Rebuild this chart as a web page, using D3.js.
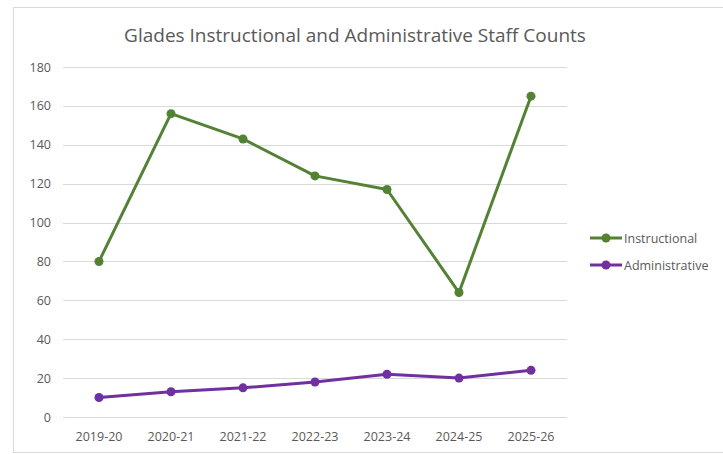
<!DOCTYPE html>
<html><head><meta charset="utf-8">
<script src="https://cdn.jsdelivr.net/npm/d3@7"></script>
<style>body{margin:0;background:#fff}svg{display:block}</style>
</head><body>
<script>
const categories = ["2019-20","2020-21","2021-22","2022-23","2023-24","2024-25","2025-26"];
const instructional = [80,156,143,124,117,64,165];
const administrative = [10,13,15,18,22,20,24];
const yTicks = [0,20,40,60,80,100,120,140,160,180];
const seriesNames = ["Instructional","Administrative"];
const colors = ["#548235","#7030A0"];

const W=723,H=454;
const svg=d3.select("body").append("svg").attr("width",W).attr("height",H);
svg.append("rect").attr("x",13.5).attr("y",7.5).attr("width",W).attr("height",445).attr("fill","#fff").attr("stroke","#d9d9d9");
const font="'Open Sans', 'Noto Sans', sans-serif";
const x=d3.scaleBand().domain(categories).range([63,567]);
const y=d3.scaleLinear().domain([0,180]).range([417,67]);

svg.append("text").attr("x",355).attr("y",42).attr("text-anchor","middle").attr("font-family",font).attr("font-size",19).attr("fill","#595959").text("Glades Instructional and Administrative Staff Counts");

const g=svg.append("g");
g.selectAll("line.grid").data(yTicks).join("line").attr("x1",63).attr("x2",567).attr("y1",d=>Math.round(y(d))+0.5).attr("y2",d=>Math.round(y(d))+0.5).attr("stroke","#d9d9d9").attr("stroke-width",1);
g.selectAll("text.yl").data(yTicks).join("text").attr("x",51).attr("y",d=>y(d)+4.5).attr("text-anchor","end").attr("font-family",font).attr("font-size",12.5).attr("fill","#595959").text(d=>d);
g.selectAll("text.xl").data(categories).join("text").attr("x",d=>x(d)+x.bandwidth()/2).attr("y",441).attr("text-anchor","middle").attr("font-family",font).attr("font-size",12.5).attr("fill","#595959").text(d=>d);

const line=d3.line().x((d,i)=>x(categories[i])+x.bandwidth()/2).y(d=>y(d));
[instructional,administrative].forEach((s,k)=>{
  g.append("path").datum(s).attr("d",line).attr("fill","none").attr("stroke",colors[k]).attr("stroke-width",3).attr("stroke-linejoin","round").attr("stroke-linecap","round");
  g.selectAll("circle.s"+k).data(s).join("circle").attr("cx",(d,i)=>x(categories[i])+x.bandwidth()/2).attr("cy",d=>y(d)).attr("r",4.5).attr("fill",colors[k]);
});

const leg=svg.append("g");
seriesNames.forEach((n,k)=>{
  const ly=238+k*27;
  leg.append("line").attr("x1",590).attr("x2",622).attr("y1",ly).attr("y2",ly).attr("stroke",colors[k]).attr("stroke-width",3);
  leg.append("circle").attr("cx",606).attr("cy",ly).attr("r",4.5).attr("fill",colors[k]);
  leg.append("text").attr("x",624).attr("y",ly+4.5).attr("font-family",font).attr("font-size",12.5).attr("fill","#595959").text(n);
});
</script>
</body></html>
